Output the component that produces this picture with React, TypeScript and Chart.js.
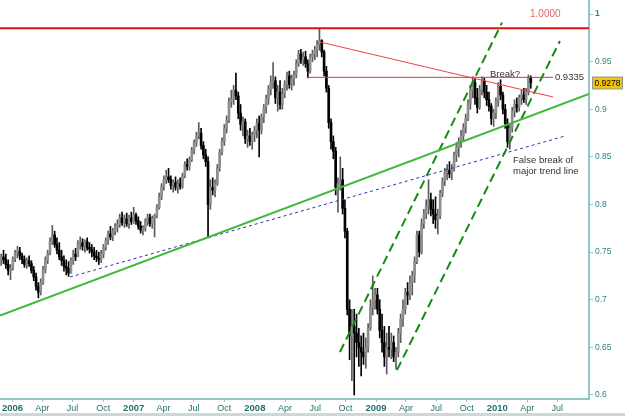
import { useEffect, useRef } from 'react';
import { Chart, registerables } from 'chart.js';

Chart.register(...registerables);

// ---------- DATA ----------
const firstWeek = '2005-11-28'; // Monday of the first weekly bar
const firstOpen = 0.742;

const highs = [
  0.748,0.752,0.748,0.742,0.737,0.745,0.752,0.756,0.755,0.749,
  0.746,0.744,0.746,0.741,0.735,0.728,0.718,0.722,0.735,0.745,
  0.752,0.765,0.778,0.772,0.765,0.760,0.752,0.746,0.742,0.740,
  0.744,0.752,0.754,0.762,0.766,0.764,0.763,0.765,0.760,0.758,
  0.755,0.752,0.750,0.752,0.758,0.765,0.772,0.777,0.775,0.780,
  0.784,0.790,0.792,0.789,0.791,0.789,0.792,0.797,0.791,0.787,
  0.782,0.778,0.785,0.790,0.790,0.788,0.790,0.800,0.812,0.822,
  0.830,0.836,0.838,0.830,0.826,0.829,0.826,0.828,0.833,0.845,
  0.848,0.850,0.860,0.868,0.876,0.886,0.880,0.866,0.858,0.850,
  0.826,0.828,0.826,0.842,0.858,0.870,0.884,0.893,0.912,0.920,
  0.925,0.938,0.918,0.905,0.892,0.890,0.878,0.880,0.876,0.882,
  0.890,0.893,0.895,0.905,0.915,0.925,0.935,0.949,0.934,0.925,
  0.930,0.922,0.930,0.939,0.940,0.936,0.940,0.952,0.962,0.963,
  0.960,0.961,0.952,0.958,0.962,0.966,0.972,0.985,0.973,0.962,
  0.945,0.925,0.890,0.872,0.860,0.828,0.850,0.838,0.805,0.775,
  0.700,0.690,0.690,0.685,0.670,0.662,0.665,0.660,0.675,0.700,
  0.725,0.712,0.712,0.700,0.685,0.672,0.665,0.672,0.665,0.662,
  0.650,0.670,0.685,0.700,0.712,0.718,0.725,0.730,0.745,0.772,
  0.772,0.785,0.795,0.805,0.826,0.812,0.805,0.808,0.795,0.815,
  0.828,0.838,0.842,0.845,0.842,0.855,0.865,0.870,0.878,0.885,
  0.895,0.910,0.925,0.934,0.932,0.922,0.925,0.934,0.933,0.925,
  0.918,0.906,0.900,0.912,0.928,0.931,0.918,0.905,0.890,0.885,
  0.902,0.910,0.912,0.915,0.920,0.922,0.922,0.936,0.935,
];

const lows = [
  0.736,0.738,0.733,0.726,0.721,0.731,0.740,0.744,0.742,0.738,
  0.734,0.733,0.735,0.728,0.720,0.710,0.702,0.705,0.716,0.728,
  0.738,0.747,0.758,0.755,0.748,0.742,0.736,0.730,0.726,0.7245,
  0.728,0.737,0.741,0.746,0.753,0.752,0.750,0.752,0.749,0.745,
  0.742,0.740,0.737,0.739,0.744,0.752,0.758,0.763,0.762,0.768,
  0.771,0.776,0.778,0.776,0.777,0.775,0.779,0.780,0.779,0.774,
  0.770,0.768,0.772,0.778,0.777,0.775,0.766,0.786,0.795,0.805,
  0.815,0.822,0.823,0.816,0.813,0.815,0.812,0.816,0.817,0.828,
  0.836,0.836,0.845,0.853,0.861,0.869,0.858,0.848,0.840,0.765,
  0.795,0.810,0.808,0.820,0.835,0.852,0.862,0.875,0.886,0.902,
  0.905,0.910,0.890,0.878,0.872,0.864,0.860,0.862,0.858,0.866,
  0.870,0.850,0.874,0.886,0.896,0.905,0.915,0.922,0.906,0.898,
  0.900,0.900,0.912,0.920,0.922,0.920,0.925,0.933,0.945,0.948,
  0.946,0.944,0.933,0.938,0.950,0.952,0.955,0.962,0.955,0.935,
  0.918,0.880,0.858,0.848,0.810,0.792,0.815,0.790,0.765,0.684,
  0.637,0.615,0.600,0.640,0.630,0.620,0.632,0.628,0.645,0.668,
  0.684,0.690,0.685,0.660,0.645,0.630,0.622,0.640,0.638,0.635,
  0.627,0.640,0.655,0.672,0.685,0.695,0.700,0.705,0.718,0.738,
  0.745,0.748,0.775,0.785,0.790,0.788,0.780,0.775,0.769,0.785,
  0.808,0.820,0.826,0.828,0.826,0.835,0.845,0.850,0.860,0.866,
  0.875,0.888,0.900,0.912,0.905,0.896,0.900,0.915,0.912,0.904,
  0.898,0.884,0.882,0.890,0.903,0.910,0.895,0.880,0.860,0.858,
  0.876,0.892,0.897,0.898,0.905,0.907,0.905,0.915,0.922,
];

const closes = [
  0.745,0.742,0.737,0.731,0.733,0.743,0.749,0.751,0.746,0.742,
  0.737,0.741,0.738,0.731,0.724,0.714,0.708,0.718,0.731,0.741,
  0.749,0.761,0.768,0.758,0.752,0.745,0.741,0.735,0.733,0.728,
  0.741,0.748,0.745,0.759,0.760,0.756,0.761,0.755,0.753,0.750,
  0.746,0.744,0.742,0.748,0.755,0.762,0.769,0.766,0.772,0.777,
  0.779,0.786,0.781,0.785,0.780,0.786,0.782,0.789,0.783,0.777,
  0.773,0.775,0.782,0.786,0.780,0.785,0.788,0.797,0.808,0.819,
  0.826,0.829,0.826,0.820,0.823,0.818,0.822,0.819,0.830,0.842,
  0.840,0.847,0.857,0.865,0.872,0.875,0.862,0.852,0.845,0.800,
  0.818,0.815,0.822,0.838,0.855,0.866,0.880,0.889,0.908,0.910,
  0.920,0.914,0.896,0.884,0.887,0.869,0.872,0.866,0.873,0.878,
  0.885,0.878,0.892,0.902,0.911,0.921,0.928,0.930,0.912,0.918,
  0.905,0.916,0.926,0.935,0.926,0.932,0.936,0.948,0.958,0.952,
  0.955,0.948,0.940,0.955,0.958,0.962,0.968,0.972,0.960,0.940,
  0.922,0.886,0.866,0.856,0.818,0.822,0.826,0.796,0.772,0.690,
  0.662,0.672,0.665,0.655,0.650,0.645,0.640,0.650,0.670,0.692,
  0.700,0.705,0.690,0.668,0.655,0.640,0.650,0.648,0.655,0.640,
  0.645,0.665,0.680,0.690,0.708,0.705,0.718,0.725,0.740,0.768,
  0.750,0.780,0.790,0.798,0.805,0.795,0.790,0.784,0.788,0.812,
  0.824,0.834,0.836,0.832,0.838,0.852,0.860,0.866,0.872,0.881,
  0.890,0.906,0.920,0.928,0.912,0.902,0.921,0.930,0.918,0.910,
  0.903,0.890,0.896,0.908,0.924,0.915,0.900,0.885,0.866,0.880,
  0.898,0.905,0.902,0.912,0.915,0.910,0.918,0.933,0.9278,
];

// axis ticks
const yTickValues = [0.6, 0.65, 0.7, 0.75, 0.8, 0.85, 0.9, 0.95, 1];
const yTickLabels = ['0.6', '0.65', '0.7', '0.75', '0.8', '0.85', '0.9', '0.95', '1'];
const xTickDates = [
  '2006-01-01','2006-04-01','2006-07-01','2006-10-01',
  '2007-01-01','2007-04-01','2007-07-01','2007-10-01',
  '2008-01-01','2008-04-01','2008-07-01','2008-10-01',
  '2009-01-01','2009-04-01','2009-07-01','2009-10-01',
  '2010-01-01','2010-04-01','2010-07-01',
];
const xTickLabels = [
  '2006','Apr','Jul','Oct','2007','Apr','Jul','Oct','2008','Apr','Jul','Oct',
  '2009','Apr','Jul','Oct','2010','Apr','Jul',
];

// drawn lines: [x1, y1, x2, y2] in (decimal year, price)
const topResistance = [2005.897, 0.985, 2010.757, 0.985];
const breakLevel = [2008.43, 0.9335, 2010.46, 0.9335];
const downTrend = [2008.537, 0.9706, 2010.46, 0.9129];
const majorTrend = [2005.897, 0.6834, 2010.757, 0.916];
const minorTrend = [2006.475, 0.7239, 2010.559, 0.8719];
const channelUpper = [2008.702, 0.6451, 2010.039, 0.9909];
const channelLower = [2009.173, 0.6263, 2010.517, 0.9717];

// text notes
const noteTexts = ['1.0000', '0.9335', 'Break?', 'False break of', 'major trend line'];
const noteX = [2010.27, 2010.476, 2009.94, 2010.13, 2010.13];
const noteY = [1.0, 0.9335, 0.9362, 0.8467, 0.8352];
const noteColors = ['#e06a6a', '#333333', '#333333', '#333333', '#333333'];

const X_MIN = 2005.897;
const X_MAX = 2010.757;
const Y_MIN = 0.5958;
const Y_MAX = 1.0147;

// ---------- HELPERS ----------
const FONT = "Arial, 'Liberation Sans', sans-serif";
const TEAL = '#2f8683';
const AXIS = '#93c7c5';

function decYear(t: number): number {
  const d = new Date(t);
  const y = d.getUTCFullYear();
  const s = Date.UTC(y, 0, 1);
  const e = Date.UTC(y + 1, 0, 1);
  return y + (t - s) / (e - s);
}

function parseDate(s: string): number {
  const [y, m, d] = s.split('-').map(Number);
  return Date.UTC(y, m - 1, d);
}

const startT = parseDate(firstWeek);
const weekX = closes.map((_, i) => decYear(startT + i * 7 * 86400000));
const opens = closes.map((_, i) => (i === 0 ? firstOpen : closes[i - 1]));
const isUp = closes.map((c, i) => c >= opens[i]);
const xTickValues = xTickDates.map((d) => decYear(parseDate(d)));

function seg(l: number[]) {
  return [{ x: l[0], y: l[1] }, { x: l[2], y: l[3] }];
}

const notesPlugin = {
  id: 'notes',
  afterDraw(chart: any) {
    const { ctx, scales } = chart;
    const x = scales.x;
    const y = scales.y;
    ctx.save();
    ctx.textBaseline = 'middle';
    ctx.textAlign = 'left';
    noteTexts.forEach((t, i) => {
      ctx.font = `${i === 0 ? 10 : 9.5}px ${FONT}`;
      ctx.fillStyle = noteColors[i];
      ctx.fillText(t, x.getPixelForValue(noteX[i]), y.getPixelForValue(noteY[i]));
    });
    // last price box
    const last = closes[closes.length - 1];
    const py = Math.round(y.getPixelForValue(last));
    const bx = x.right + 3.5;
    ctx.fillStyle = '#f2c40c';
    ctx.fillRect(bx, py - 6, 30, 12);
    ctx.strokeStyle = '#8a9a9a';
    ctx.lineWidth = 1;
    ctx.strokeRect(bx, py - 6, 30, 12);
    ctx.fillStyle = '#000';
    ctx.font = `8.5px ${FONT}`;
    ctx.fillText(last.toFixed(4), bx + 2, py + 0.5);
    ctx.restore();
  },
};

export default function App() {
  const ref = useRef<HTMLCanvasElement | null>(null);

  useEffect(() => {
    if (!ref.current) return;
    const lineDs = (
      l: number[],
      color: string,
      width: number,
      dash: number[] = [],
    ) => ({
      type: 'line' as const,
      data: seg(l),
      borderColor: color,
      borderWidth: width,
      borderDash: dash,
      pointRadius: 0,
      fill: false,
      tension: 0,
      order: 0,
    });

    const chart = new Chart(ref.current, {
      type: 'bar',
      data: {
        datasets: [
          lineDs(topResistance, '#e01010', 2),
          lineDs(breakLevel, '#f03030', 1),
          lineDs(downTrend, '#f04040', 1),
          lineDs(majorTrend, '#3cba3c', 2),
          lineDs(minorTrend, '#3030b0', 1, [3, 3]),
          lineDs(channelUpper, '#138c13', 2, [9, 5]),
          lineDs(channelLower, '#138c13', 2, [9, 5]),
          {
            type: 'bar',
            data: closes.map((c, i) => ({ x: weekX[i], y: [opens[i], c] })) as any,
            backgroundColor: isUp.map((u) => (u ? '#8e8e8e' : '#000000')),
            borderWidth: 0,
            barThickness: 2,
            minBarLength: 1,
            grouped: false,
            order: 1,
          },
          {
            type: 'bar',
            data: closes.map((_, i) => ({ x: weekX[i], y: [lows[i], highs[i]] })) as any,
            backgroundColor: isUp.map((u) => (u ? '#5a5a5a' : '#000000')),
            borderWidth: 0,
            barThickness: 1,
            grouped: false,
            order: 2,
          },
        ] as any,
      },
      options: {
        animation: false,
        responsive: false,
        maintainAspectRatio: false,
        layout: { padding: 0 },
        plugins: {
          legend: { display: false },
          tooltip: { enabled: false },
        },
        scales: {
          x: {
            type: 'linear',
            min: X_MIN,
            max: X_MAX,
            offset: false,
            grid: {
              display: true,
              offset: false,
              drawOnChartArea: false,
              drawTicks: true,
              tickLength: 3,
              color: AXIS,
            },
            border: { display: true, color: AXIS, width: 2 },
            afterBuildTicks: (s: any) => {
              s.ticks = xTickValues.map((v) => ({ value: v }));
            },
            afterFit: (s: any) => {
              s.height = 17;
              s.paddingLeft = 0;
              s.paddingRight = 0;
            },
            ticks: {
              autoSkip: false,
              maxRotation: 0,
              minRotation: 0,
              padding: 1,
              color: '#23706d',
              font: (c: any) => {
                const yr = /^\d{4}$/.test(xTickLabels[c.index] || '');
                return { family: FONT, size: yr ? 9.5 : 9, weight: yr ? 'bold' : 'normal' };
              },
              callback: (_v: any, i: number) => xTickLabels[i],
            },
          },
          y: {
            type: 'linear',
            position: 'right',
            min: Y_MIN,
            max: Y_MAX,
            grid: {
              display: true,
              drawOnChartArea: false,
              drawTicks: true,
              tickLength: 4,
              color: AXIS,
            },
            border: { display: true, color: AXIS, width: 2 },
            afterBuildTicks: (s: any) => {
              s.ticks = yTickValues.map((v) => ({ value: v }));
            },
            afterFit: (s: any) => {
              s.width = 36;
              s.paddingTop = 0;
              s.paddingBottom = 0;
            },
            ticks: {
              padding: 2,
              color: TEAL,
              font: (c: any) => ({
                family: FONT,
                size: 8.5,
                weight: yTickLabels[c.index] === '1' ? 'bold' : 'normal',
              }),
              callback: (_v: any, i: number) => yTickLabels[i],
            },
          },
        },
      } as any,
      plugins: [notesPlugin],
    });
    return () => chart.destroy();
  }, []);

  return (
    <div style={{ position: 'fixed', left: 0, top: 0, width: 625, height: 416, background: '#fff' }}>
      <canvas ref={ref} width={625} height={416} style={{ display: 'block', width: 625, height: 416 }} />
      <div style={{ position: 'absolute', left: 0, top: 413, width: 625, height: 3, background: '#cfd6d6' }} />
    </div>
  );
}
